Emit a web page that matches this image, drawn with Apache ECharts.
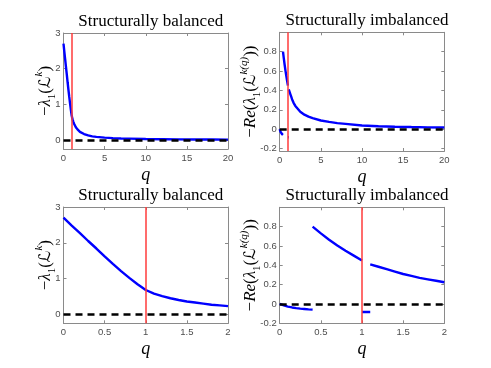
<!DOCTYPE html>
<html>
<head>
<meta charset="utf-8">
<script src="https://cdn.jsdelivr.net/npm/echarts@6/dist/echarts.min.js"></script>
<style>
  html, body { margin: 0; padding: 0; background: #fff; }
  #chart { width: 491px; height: 368px; }
</style>
</head>
<body>
<div id="chart"></div>
<script>
const qStar = 1

// structurally balanced: -lambda_1(L^k)
const balQ = [0, 0.1, 0.2, 0.3, 0.4, 0.5, 0.6, 0.7, 0.8, 0.9, 1.0, 1.1, 1.2, 1.3, 1.4, 1.5, 1.6, 1.7, 1.8, 1.9, 2.0]
const balVal = [2.70, 2.48, 2.27, 2.05, 1.84, 1.62, 1.41, 1.21, 1.02, 0.84, 0.68, 0.58, 0.51, 0.45, 0.40, 0.36, 0.33, 0.30, 0.27, 0.25, 0.23]
const balTailQ = [2.5, 3, 3.5, 4, 5, 6, 7, 8, 10, 12, 14, 16, 18, 20]
const balTailVal = [0.17, 0.13, 0.105, 0.09, 0.07, 0.055, 0.045, 0.04, 0.03, 0.025, 0.02, 0.017, 0.015, 0.013]

// structurally imbalanced: -Re(lambda_1(L^{k(q)})), piecewise
const imbSeg1Q = [0, 0.05, 0.1, 0.15, 0.2, 0.25, 0.3, 0.35, 0.4]
const imbSeg1 = [0, -0.015, -0.027, -0.036, -0.043, -0.048, -0.052, -0.056, -0.059]
const imbSeg2Q = [0.4, 0.5, 0.6, 0.7, 0.8, 0.9, 1.0]
const imbSeg2 = [0.80, 0.73, 0.665, 0.605, 0.55, 0.50, 0.45]
const imbSeg3Q = [1.0, 1.1]
const imbSeg3 = [-0.083, -0.083]
const imbSeg4Q = [1.1, 1.2, 1.3, 1.4, 1.5, 1.6, 1.7, 1.8, 1.9, 2.0]
const imbSeg4 = [0.41, 0.385, 0.36, 0.335, 0.31, 0.29, 0.27, 0.255, 0.24, 0.225]
const imbTailQ = [2.5, 3, 3.5, 4, 5, 6, 7, 8, 10, 12, 14, 16, 18, 20]
const imbTail = [0.18, 0.15, 0.13, 0.115, 0.09, 0.075, 0.063, 0.055, 0.038, 0.031, 0.026, 0.022, 0.019, 0.017]

const titles = ['Structurally balanced', 'Structurally imbalanced', 'Structurally balanced', 'Structurally imbalanced']

const pts = (qs, vs) => qs.map((q, i) => [q, vs[i]])

const serif = '"Liberation Serif", "DejaVu Serif", serif'
const boxColor = '#8a8a8a'
const labelColor = '#4d4d4d'

const grids = [
  { left: 63.5, top: 33, width: 164.5, height: 116 },
  { left: 279.7, top: 32.3, width: 164.6, height: 118.7 },
  { left: 63.5, top: 207, width: 164.5, height: 116.3 },
  { left: 279.7, top: 207.3, width: 164.6, height: 116 },
]
const xRanges = [[0, 20, 5], [0, 20, 5], [0, 2, 0.5], [0, 2, 0.5]]
const yRanges = [[-0.25, 3, 1], [-0.225, 1, 0.2], [-0.25, 3, 1], [-0.2, 1, 0.2]]

const richY = {
  n: { fontFamily: serif, fontSize: 17, color: '#000', lineHeight: 24, verticalAlign: 'middle' },
  it: { fontFamily: serif, fontSize: 17, fontStyle: 'italic', color: '#000', lineHeight: 24, verticalAlign: 'middle' },
  sc: { fontFamily: '"DejaVu Sans", sans-serif', fontSize: 16, color: '#000', lineHeight: 24, verticalAlign: 'middle' },
  sub: { fontFamily: serif, fontSize: 11, color: '#000', lineHeight: 24, verticalAlign: 'bottom' },
  sup: { fontFamily: serif, fontSize: 11, fontStyle: 'italic', color: '#000', lineHeight: 24, verticalAlign: 'top' },
}
const yNames = [
  '{n|−}{it|λ}{sub|1}{n|(}{sc|ℒ}{sup|k}{n|)}',
  '{n|−}{it|Re}{n|(}{it|λ}{sub|1}{n|(}{sc|ℒ}{sup|k(q)}{n|)}{n|)}',
]
const yGaps = [6, 17]

const xAxis = []
const yAxis = []
grids.forEach((g, i) => {
  const [xmin, xmax, xint] = xRanges[i]
  const [ymin, ymax, yint] = yRanges[i]
  const common = {
    gridIndex: i,
    axisLine: { show: true, onZero: false, lineStyle: { color: boxColor, width: 1 } },
    axisTick: { show: true, inside: true, length: 3, lineStyle: { color: boxColor } },
    splitLine: { show: false },
  }
  xAxis.push({
    ...common, type: 'value', position: 'bottom', min: xmin, max: xmax, interval: xint,
    name: 'q', nameLocation: 'middle', nameGap: 17, nameMoveOverlap: false,
    nameTextStyle: { fontFamily: serif, fontStyle: 'italic', fontSize: 18, color: '#000' },
    axisLabel: { color: labelColor, fontSize: 9.5, fontFamily: '"Liberation Sans", Arial, sans-serif', margin: 4 },
  })
  xAxis.push({
    ...common, type: 'value', position: 'top', min: xmin, max: xmax, interval: xint,
    axisLabel: { show: false },
  })
  const fmt = v => {
    const k = Math.round(v / yint)
    if (Math.abs(v - k * yint) > 1e-6) return ''
    if (yint < 1 && v > 0.85) return ''
    return String(Math.round(v * 10) / 10)
  }
  yAxis.push({
    ...common, type: 'value', position: 'left', min: ymin, max: ymax,
    minInterval: yint, maxInterval: yint,
    name: yNames[i % 2], nameLocation: 'middle', nameGap: yGaps[i % 2], nameRotate: 90,
    nameMoveOverlap: false,
    nameTextStyle: { rich: richY },
    axisLabel: { color: labelColor, fontSize: 9.5, fontFamily: '"Liberation Sans", Arial, sans-serif', margin: 3, formatter: fmt },
  })
  yAxis.push({
    ...common, type: 'value', position: 'right', min: ymin, max: ymax,
    minInterval: yint, maxInterval: yint,
    axisLabel: { show: false },
  })
})

const blue = (i, data) => ({
  type: 'line', xAxisIndex: 2 * i, yAxisIndex: 2 * i, data, showSymbol: false, symbol: 'none',
  lineStyle: { color: '#0000ff', width: 2.4 }, z: 3, animation: false,
})
const guides = i => ({
  type: 'line', xAxisIndex: 2 * i, yAxisIndex: 2 * i, data: [], symbol: 'none',
  markLine: {
    silent: true, symbol: 'none', animation: false, label: { show: false },
    data: [
      { yAxis: 0, lineStyle: { color: '#000', width: 2.5, type: [7, 5] } },
      { xAxis: qStar, lineStyle: { color: '#ff3b3b', width: 1.5, type: 'solid' } },
    ],
  },
  z: 4, animation: false,
})

const series = [
  blue(0, pts(balQ.concat(balTailQ), balVal.concat(balTailVal))),
  guides(0),
  blue(1, pts(imbSeg1Q, imbSeg1)),
  blue(1, pts(imbSeg2Q, imbSeg2)),
  blue(1, pts(imbSeg3Q, imbSeg3)),
  blue(1, pts(imbSeg4Q.concat(imbTailQ), imbSeg4.concat(imbTail))),
  guides(1),
  blue(2, pts(balQ, balVal)),
  guides(2),
  blue(3, pts(imbSeg1Q, imbSeg1)),
  blue(3, pts(imbSeg2Q, imbSeg2)),
  blue(3, pts(imbSeg3Q, imbSeg3)),
  blue(3, pts(imbSeg4Q, imbSeg4)),
  guides(3),
]

const title = grids.map((g, i) => ({
  text: titles[i],
  left: g.left + g.width / 2,
  top: g.top - 25,
  textAlign: 'center',
  textStyle: { fontFamily: serif, fontSize: 17, fontWeight: 'normal', color: '#000' },
}))

const chart = echarts.init(document.getElementById('chart'), null, { renderer: 'canvas' })
chart.setOption({
  animation: false,
  backgroundColor: '#fff',
  title,
  grid: grids.map(g => ({ ...g, containLabel: false })),
  xAxis,
  yAxis,
  series,
})
</script>
</body>
</html>
